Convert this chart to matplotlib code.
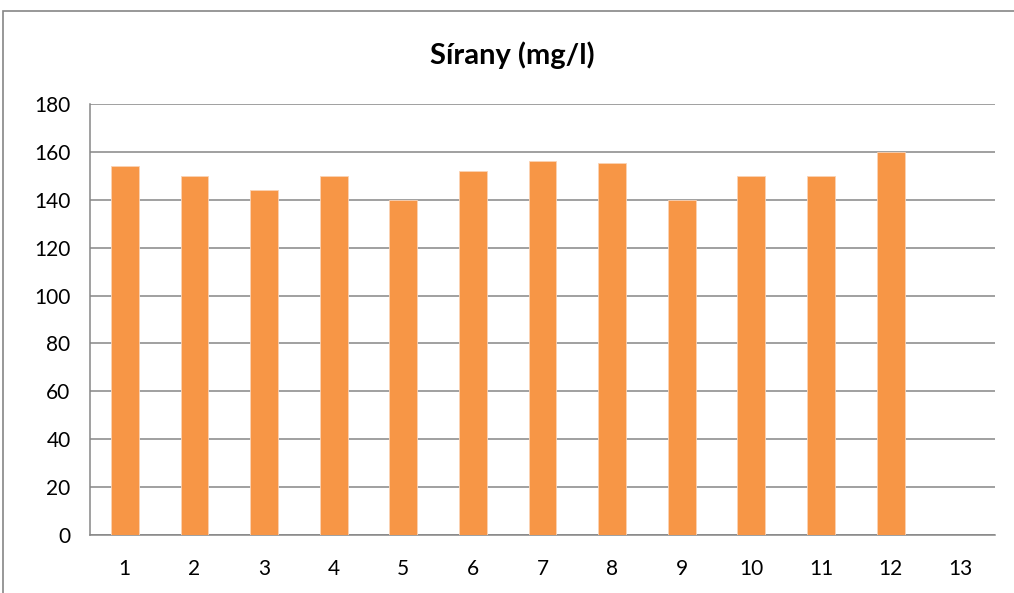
import matplotlib

matplotlib.use("Agg")

import matplotlib.pyplot as plt
from matplotlib.patches import Rectangle

categories = [str(i) for i in range(1, 14)]
values = [154, 150, 144, 150, 140, 152, 156, 155.5, 140, 150, 150, 160, None]
title = "Sírany (mg/l)"
y_ticks = list(range(0, 181, 20))

plt.rcParams["font.family"] = ["Lato", "DejaVu Sans"]

W, H = 1014, 593
fig = plt.figure(figsize=(W / 100, H / 100), dpi=100)
ax = fig.add_axes([90 / W, 1 - 535 / H, 905 / W, 431 / H])

xs = list(range(len(categories)))
heights = [v if v is not None else 0 for v in values]
ax.bar(xs, heights, width=0.4, color="#F79646", edgecolor="#FAD3B5", linewidth=0.6, zorder=3)

ax.set_xlim(-0.5, len(categories) - 0.5)
ax.set_ylim(0, 180)
ax.set_yticks(y_ticks)
ax.set_xticks(xs)
ax.set_xticklabels(categories)
ax.tick_params(axis="both", length=0, labelsize=15, colors="black")
ax.tick_params(axis="x", pad=17)
ax.tick_params(axis="y", pad=14)
ax.grid(axis="y", color="#868686", linewidth=1.1, zorder=0)

for name in ("top", "right"):
    ax.spines[name].set_visible(False)
ax.spines["left"].set_color("#868686")
ax.spines["bottom"].set_color("#868686")
ax.spines["left"].set_linewidth(1.1)
ax.spines["bottom"].set_linewidth(1.1)

# chart title is centred on the whole chart area, not on the plot
fig.text(512 / W, 1 - 55 / H, title, fontsize=21, fontweight="bold",
         ha="center", va="center")

fig.patches.append(
    Rectangle((3 / W, -0.05), 1.1, 1 - 11 / H + 0.05, transform=fig.transFigure,
              fill=False, edgecolor="#868686", linewidth=1.2)
)

fig.savefig("out.png", dpi=100)
plt.close(fig)
